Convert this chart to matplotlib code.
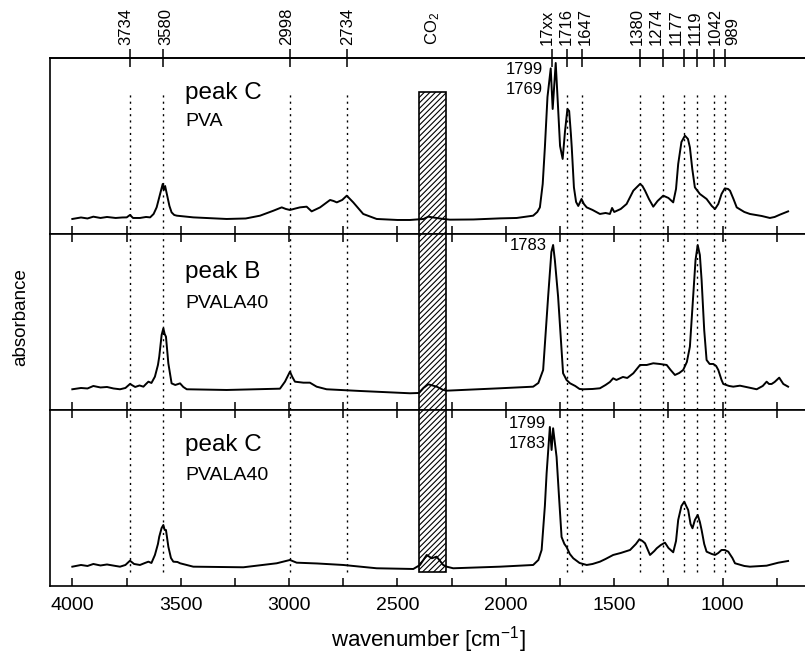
import matplotlib.pyplot as plt
from matplotlib.patches import Rectangle
from matplotlib.ticker import MultipleLocator

# Fuente tipo Arial
plt.rcParams['font.family'] = ['Liberation Sans', 'DejaVu Sans']
plt.rcParams['mathtext.fontset'] = 'custom'
plt.rcParams['mathtext.rm'] = 'Liberation Sans'
plt.rcParams['mathtext.it'] = 'Liberation Sans:italic'
plt.rcParams['hatch.linewidth'] = 0.8

# Espectro 1: peak C, PVA (numero de onda en cm-1, absorbancia en u.a.)
nu_pva_c = [4000, 3960, 3930, 3903, 3870, 3840, 3800, 3770, 3749, 3734, 3720, 3688, 3660, 3641,
            3625, 3611, 3595, 3583, 3578, 3572, 3562, 3552, 3542, 3530, 3518, 3442, 3288, 3200,
            3134, 3072, 3034, 3015, 2996, 2970, 2950, 2919, 2896, 2857, 2811, 2795, 2780, 2755,
            2734, 2704, 2658, 2596, 2500, 2442, 2380, 2358, 2320, 2289, 2258, 2150, 2027, 1950,
            1874, 1855, 1843, 1830, 1820, 1808, 1793, 1784, 1770, 1760, 1750, 1738, 1727, 1716,
            1708, 1700, 1696, 1686, 1676, 1666, 1651, 1640, 1627, 1600, 1566, 1540, 1520, 1510,
            1500, 1470, 1443, 1412, 1395, 1381, 1370, 1358, 1340, 1320, 1300, 1274, 1250, 1228,
            1215, 1205, 1190, 1174, 1160, 1151, 1140, 1128, 1105, 1074, 1050, 1035, 1020, 1005,
            990, 975, 966, 950, 935, 900, 874, 820, 782, 760, 736, 698]
abs_pva_c = [15, 16.5, 15.5, 17.3, 16, 17, 16, 16.5, 16.6, 19, 16, 16, 17, 16.6,
             20, 26.6, 40, 50, 44, 48, 38, 28, 21.6, 19, 18.3, 16.6, 15, 15.5,
             18.3, 23.3, 26.6, 25, 24, 25.5, 26.6, 27.3, 22.6, 26.6, 34, 33, 31.6, 34,
             38.3, 31.6, 20, 15, 14, 14, 15, 17.3, 16, 15, 14.3, 14.5, 15.6, 16,
             18.3, 22, 26.6, 50, 86.6, 137, 165.6, 125, 171, 130, 88, 75, 103, 125,
             123, 100, 86.6, 46.6, 32, 28, 35, 30, 26.6, 24, 20, 21, 20, 26,
             22, 25, 30, 43.3, 47, 50, 48, 43.3, 35, 27.3, 33, 38.3, 36, 31.6,
             45, 70, 92, 98.3, 95, 86.6, 65, 46.6, 40, 35, 28, 25, 30, 40,
             45.6, 45, 43.3, 35, 26.6, 22, 20, 18, 16, 17, 19.3, 22.6]

# Espectro 2: peak B, PVALA40
nu_pvala_b = [4000, 3960, 3930, 3903, 3870, 3840, 3810, 3780, 3755, 3734, 3710, 3690, 3672, 3660,
              3649, 3635, 3619, 3605, 3599, 3588, 3580, 3574, 3568, 3557, 3542, 3525, 3503, 3488,
              3472, 3288, 3042, 3019, 2996, 2985, 2973, 2934, 2904, 2873, 2827, 2673, 2442, 2400,
              2380, 2358, 2319, 2289, 2273, 2150, 2027, 1874, 1850, 1828, 1805, 1790, 1782, 1774,
              1759, 1736, 1720, 1704, 1680, 1660, 1643, 1600, 1566, 1540, 1520, 1505, 1490, 1460,
              1440, 1412, 1381, 1350, 1320, 1290, 1258, 1240, 1220, 1200, 1182, 1165, 1151, 1136,
              1125, 1115, 1105, 1097, 1085, 1074, 1060, 1043, 1030, 1020, 1005, 997, 970, 951,
              920, 870, 843, 815, 797, 786, 774, 760, 739, 720, 698]
abs_pvala_b = [20.7, 22, 21.5, 24, 22.5, 23, 21.5, 20.7, 22, 26, 23, 24.5, 23.3, 26,
               28.3, 27, 33.3, 45, 53.3, 75, 81.6, 76, 73.3, 46.6, 26.6, 25, 26.6, 23,
               20.7, 20, 21.3, 28.3, 38.3, 33, 28.3, 27.3, 27.3, 23.3, 20.7, 19, 16.7, 17,
               22, 25.7, 23.3, 20, 19.3, 20.5, 21.7, 23.3, 27, 40, 113.3, 158, 165, 150,
               113.3, 36.7, 30, 26.7, 24, 21, 20.7, 21, 21.7, 25, 28, 31.7, 30, 33,
               32, 36.7, 45, 45, 46.7, 46, 45, 40, 35, 37, 40, 48, 63.3, 113.3,
               150, 165, 155, 130, 80, 50, 46, 46, 44, 40, 30, 26, 24, 23.3,
               24.3, 22, 20.7, 24, 28.3, 26, 26, 28, 32.3, 26, 23.3]

# Espectro 3: peak C, PVALA40
nu_pvala_c = [4000, 3960, 3930, 3903, 3870, 3840, 3800, 3780, 3755, 3734, 3715, 3688, 3665, 3649,
              3635, 3619, 3605, 3599, 3588, 3580, 3574, 3568, 3557, 3545, 3534, 3515, 3503, 3442,
              3211, 3057, 2996, 2965, 2870, 2750, 2596, 2427, 2396, 2365, 2342, 2319, 2289, 2273,
              2243, 2027, 1874, 1850, 1835, 1820, 1812, 1797, 1789, 1782, 1766, 1755, 1743, 1730,
              1720, 1705, 1689, 1660, 1627, 1600, 1566, 1540, 1505, 1470, 1427, 1400, 1384, 1370,
              1358, 1335, 1315, 1304, 1285, 1266, 1250, 1228, 1215, 1205, 1190, 1177, 1168, 1159,
              1148, 1139, 1128, 1115, 1105, 1097, 1085, 1074, 1050, 1035, 1020, 1005, 990, 974,
              955, 943, 900, 874, 797, 743, 698]
abs_pvala_c = [19.3, 21, 20, 22, 20.5, 21.5, 20, 19.3, 21, 25.3, 22, 21, 23, 24.3,
               23, 31, 42, 49.3, 58, 61, 56, 56, 39.3, 28, 24.3, 24, 22.7, 19.3,
               18.7, 22.7, 26, 23.3, 22.5, 21, 17.7, 17, 21, 31, 27.7, 29.3, 21, 19.3,
               17.7, 19.3, 21, 26, 36, 80, 112.7, 159, 136, 157.7, 129, 90, 49, 42,
               39, 32, 27.7, 23, 21, 22, 24.3, 27, 31, 33, 36, 42, 46.7, 45,
               42.7, 31, 35, 37.7, 41, 43.3, 38, 33.7, 45, 66, 80, 84.3, 80, 76,
               62, 57.7, 66, 71, 64, 56, 42, 34.3, 32, 31, 33, 36, 36, 34.3,
               28, 22.7, 20, 19.3, 20.3, 23.3, 25]

titulos = ['peak C', 'peak B', 'peak C']
muestras = ['PVA', 'PVALA40', 'PVALA40']

# Numeros junto al pico de carbonilo
anotaciones = [[('1799', 0.935), ('1769', 0.82)],
               [('1783', 0.932)],
               [('1799', 0.922), ('1783', 0.808)]]
x_anotacion = [1828, 1811, 1816]

# Bandas marcadas arriba
pos_ticks_top = [3734, 3580, 2998, 2734, 1786, 1716, 1647, 1380, 1274, 1177, 1119, 1042, 989]
pos_etiquetas_top = [3754, 3568, 3011, 2732, 2336, 1811, 1723, 1635, 1396, 1304, 1212, 1124, 1035, 951]
etiquetas_top = ['3734', '3580', '2998', '2734', 'CO$_2$', '17xx', '1716', '1647',
                 '1380', '1274', '1177', '1119', '1042', '989']
lineas_punteadas = [3734, 3580, 2998, 2734, 1716, 1647, 1380, 1274, 1177, 1119, 1042, 989]
zona_co2 = (2400, 2277)

espectros = [(nu_pva_c, abs_pva_c), (nu_pvala_b, abs_pvala_b), (nu_pvala_c, abs_pvala_c)]

fig, axs = plt.subplots(3, 1, sharex=True, figsize=(8.05, 6.61), dpi=100)
fig.subplots_adjust(left=0.0621, right=1.0, top=0.9123, bottom=0.1135, hspace=0)

for i, ax in enumerate(axs):
    nu, ab = espectros[i]
    ax.plot(nu, ab, color='black', lw=1.4)
    ax.set_ylim(0, 176)
    ax.set_yticks([])
    for lado in ['left', 'top', 'bottom']:
        ax.spines[lado].set_linewidth(1.2)
    ax.spines['right'].set_visible(False)
    ax.tick_params(axis='x', which='both', direction='in', length=6, width=1.1,
                   top=(i > 0), bottom=True, labelbottom=(i == 2))
    ax.text(3480, 0.80 if i != 1 else 0.783, titulos[i], transform=ax.get_xaxis_transform(),
            fontsize=17.5, va='center', ha='left')
    ax.text(3480, [0.637, 0.604, 0.625][i], muestras[i], transform=ax.get_xaxis_transform(),
            fontsize=14, va='center', ha='left')
    for texto, yf in anotaciones[i]:
        ax.text(x_anotacion[i], yf, texto, transform=ax.get_xaxis_transform(),
                fontsize=12, va='center', ha='right')

axs[2].set_xlim(4103, 620)
axs[2].xaxis.set_major_locator(MultipleLocator(500))
axs[2].xaxis.set_minor_locator(MultipleLocator(250))
axs[2].tick_params(axis='x', labelsize=14, pad=8)

# Eje superior con las bandas
arriba = axs[0].secondary_xaxis('top')
arriba.set_xticks(pos_ticks_top, labels=[''] * len(pos_ticks_top))
arriba.set_xticks(pos_etiquetas_top, labels=etiquetas_top, minor=True)
arriba.tick_params(which='major', direction='inout', length=13, width=1.1)
arriba.tick_params(which='minor', length=0, pad=9, labelsize=12, labelrotation=90)
arriba.spines['top'].set_linewidth(1.2)

# Capa encima para lineas punteadas y zona de CO2
capa = fig.add_axes(axs[2].get_position().union([p.get_position() for p in axs]).bounds)
capa.set_xlim(4103, 620)
capa.set_ylim(0, 1)
capa.axis('off')
capa.patch.set_visible(False)
for x in lineas_punteadas:
    capa.plot([x, x], [0.027, 0.936], color='black', lw=1, ls=(0, (1.5, 3)))
capa.add_patch(Rectangle((zona_co2[0], 0.027), zona_co2[1] - zona_co2[0], 0.909,
                         fill=False, hatch='//////', lw=1.2, edgecolor='black'))

fig.text(0.026, 0.52, 'absorbance', rotation=90, fontsize=13.5, va='center', ha='center')
fig.text(0.5317, 0.032, 'wavenumber [cm$^{-1}$]', fontsize=16, va='center', ha='center')

plt.savefig('out.png', dpi=100)
